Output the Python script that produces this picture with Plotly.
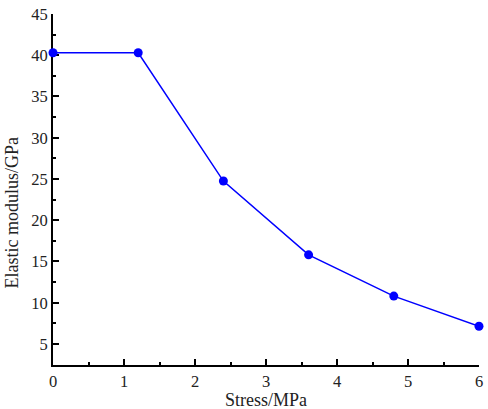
import plotly.graph_objects as go

stress = [0, 1.2, 2.4, 3.6, 4.8, 6.0]
modulus = [40.3, 40.3, 24.75, 15.8, 10.8, 7.15]

x_ticks = [0, 1, 2, 3, 4, 5, 6]
y_ticks = [5, 10, 15, 20, 25, 30, 35, 40, 45]

FONT = "Liberation Serif, Times New Roman, serif"

L, R, T, B = 53, 5, 14, 44
W, H = 488, 409
PW, PH = W - L - R, H - T - B

fig = go.Figure()
fig.add_trace(go.Scatter(
    x=stress, y=modulus, mode="lines+markers",
    line=dict(color="#0000ff", width=1.5),
    marker=dict(color="#0000ff", size=9),
    cliponaxis=False, showlegend=False,
))

axis_common = dict(
    showline=True, linecolor="black", linewidth=2,
    ticks="inside", ticklen=6, tickwidth=2, tickcolor="black",
    showgrid=False, zeroline=False, mirror=False,
    tickfont=dict(family=FONT, size=16.5, color="#222"),
    layer="below traces",
)

fig.update_xaxes(
    range=[0, 6], tickvals=x_ticks,
    minor=dict(ticks="inside", ticklen=3, tickwidth=2, tickcolor="black", dtick=0.5, tick0=0),
    **axis_common,
)
fig.update_yaxes(
    range=[2.45, 45], tickvals=y_ticks,
    minor=dict(ticks="inside", ticklen=3, tickwidth=2, tickcolor="black", dtick=2.5, tick0=0),
    **axis_common,
)

fig.add_annotation(
    text="Elastic modulus/GPa", textangle=-90,
    xref="paper", yref="paper", x=-L / PW, y=(H - B - 212) / PH,
    xanchor="left", yanchor="middle", showarrow=False,
    font=dict(family=FONT, size=18, color="#222"),
)
fig.add_annotation(
    text="Stress/MPa",
    xref="paper", yref="paper", x=0.5, y=-(400 - (H - B)) / PH,
    xanchor="center", yanchor="middle", showarrow=False,
    font=dict(family=FONT, size=18, color="#222"),
)

fig.update_layout(
    width=W, height=H,
    margin=dict(l=L, r=R, t=T, b=B),
    paper_bgcolor="white", plot_bgcolor="white",
)

fig.write_html("out.html", config={"displayModeBar": False},
               post_script="document.body.style.margin='0';")
